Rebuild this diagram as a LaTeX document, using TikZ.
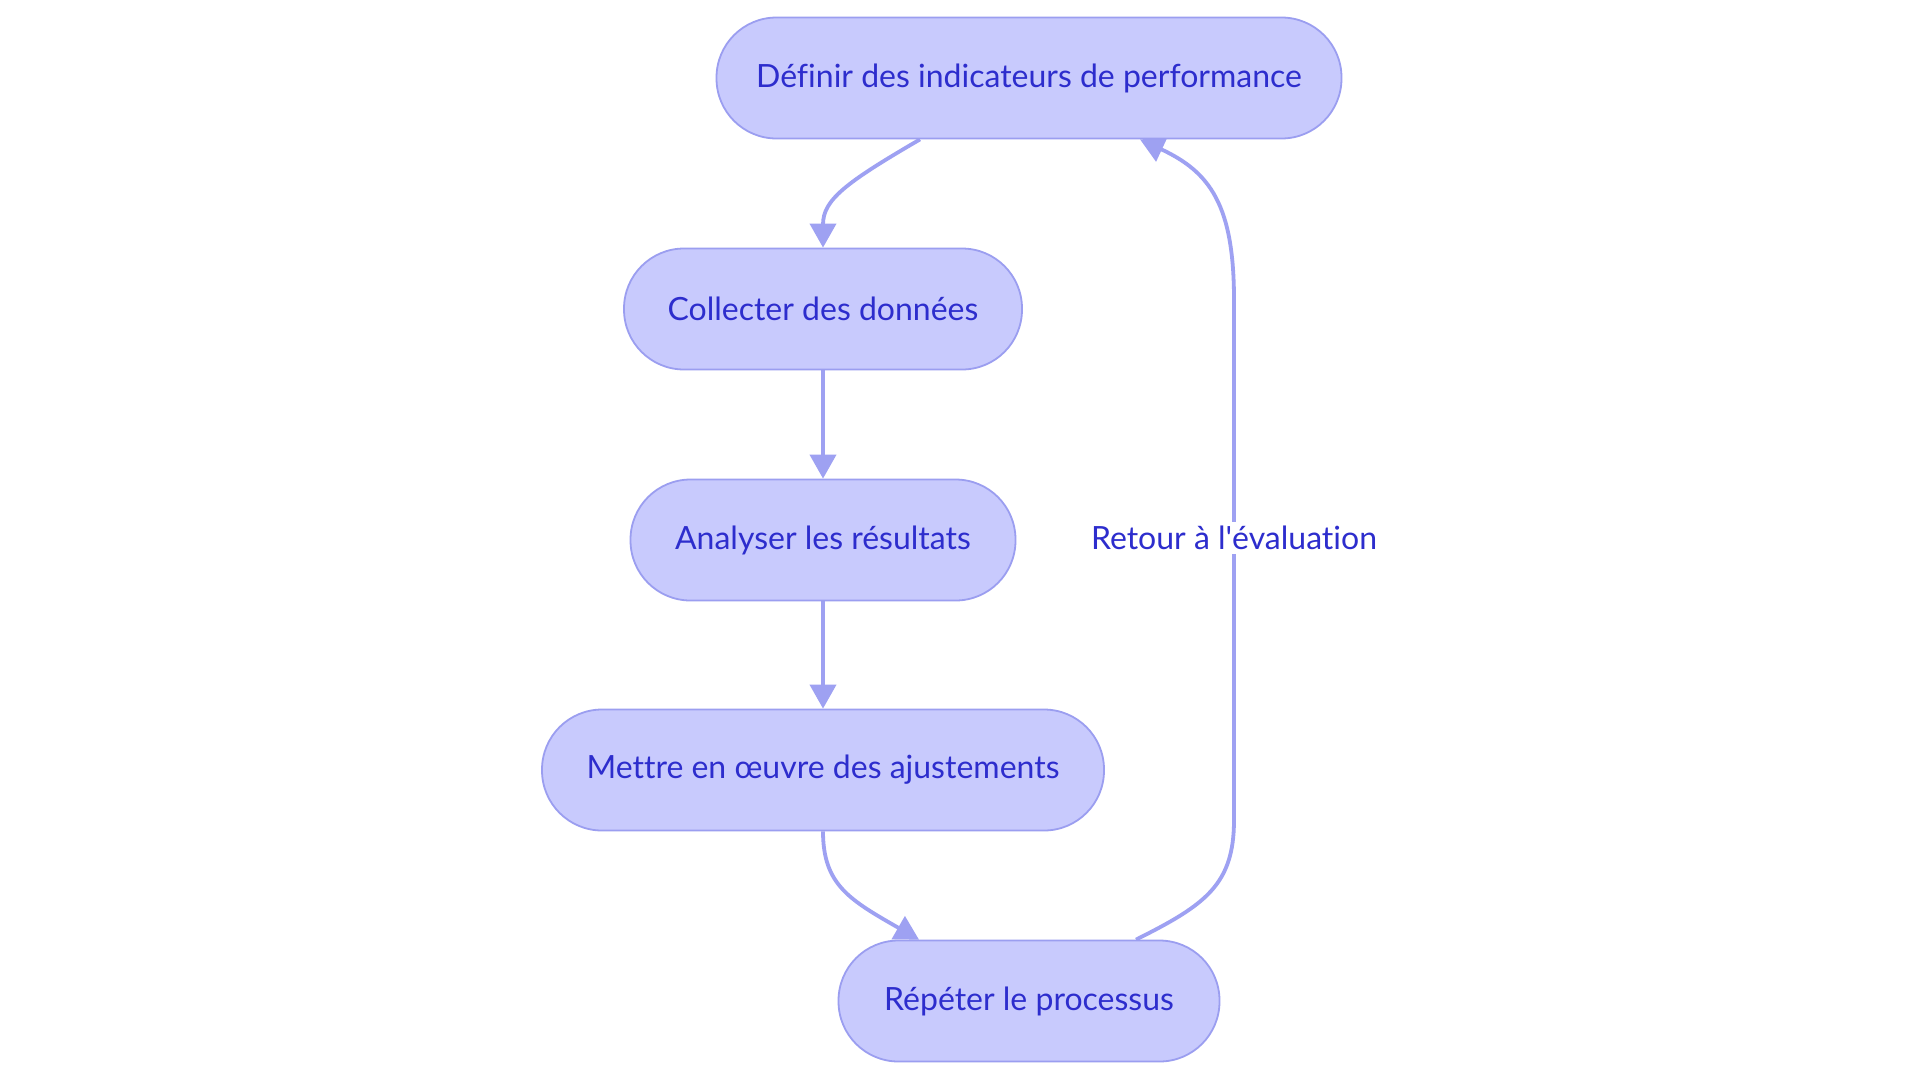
\documentclass[tikz,border=0pt]{standalone}
\usepackage{fontspec}
\setmainfont{Lato}[Ligatures={NoCommon}]
\usetikzlibrary{arrows.meta,backgrounds}
\definecolor{boxfill}{RGB}{200,202,253}
\definecolor{boxline}{RGB}{155,158,240}
\definecolor{edgecol}{RGB}{158,161,242}
\definecolor{txtcol}{RGB}{45,45,205}
\tikzset{
  stadium/.style={draw=boxline, fill=boxfill, line width=0.9pt, rounded corners=30pt,
    minimum height=60.5pt, inner sep=0pt, text=txtcol, font=\fontsize{16}{19}\selectfont},
  edge/.style={draw=edgecol, line width=1.9pt, -{Triangle[length=12pt,width=13pt]}},
  lbl/.style={fill=white, text=txtcol, inner sep=2pt, font=\fontsize{16}{19}\selectfont}
}
\begin{document}
\begin{tikzpicture}[x=0.5pt,y=-0.5pt]
\useasboundingbox (0,0) rectangle (1920,1083);
\node[stadium, minimum width=312.5pt] (n1) at (1029,78) {Définir des indicateurs de performance};
\node[stadium, minimum width=199pt] (n2) at (823,309) {Collecter des données};
\node[stadium, minimum width=192.5pt] (n3) at (823,540) {Analyser les résultats};
\node[stadium, minimum width=281pt] (n4) at (823,770) {Mettre en œuvre des ajustements};
\node[stadium, minimum width=190.5pt] (n5) at (1029,1001) {Répéter le processus};
\begin{pgfonlayer}{background}
\fill[white] (0,0) rectangle (1920,1083);
\draw[edge] ([xshift=-54.5pt]n1.south) .. controls (845,183) and (823,200) .. (n2.north);
\draw[edge] (n2.south) -- (n3.north);
\draw[edge] (n3.south) -- (n4.north);
\draw[edge] (n4.south) .. controls (823,885) and (850,900) .. ([xshift=-55pt]n5.north);
\draw[edge] ([xshift=53.5pt]n5.north) .. controls (1205,905) and (1234,885) .. (1234,820)
  -- node[lbl, pos=0.542] (lab) {Retour à l\textquotesingle évaluation} (1234,300)
  .. controls (1234,205) and (1210,172) .. ([xshift=55.5pt]n1.south);
\end{pgfonlayer}
\end{tikzpicture}
\end{document}
